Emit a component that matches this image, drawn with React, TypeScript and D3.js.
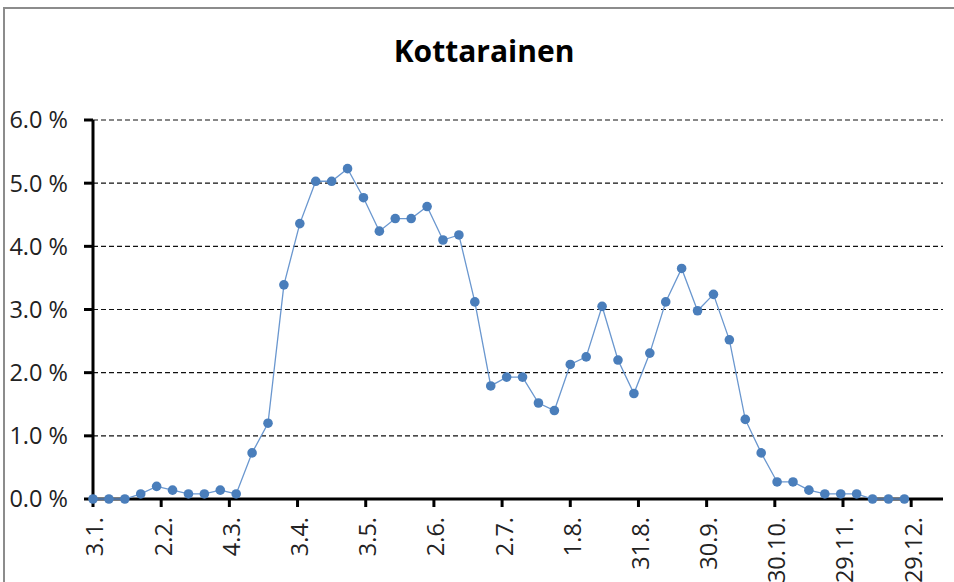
import React from "react";
import * as d3 from "d3";

const title = "Kottarainen";
const startDate = new Date(Date.UTC(2015, 0, 3));
const dayCount = 374;
const tickStepDays = 30;
const tickCount = 13;
const weekStepDays = 7;
const values = [
  0.0, 0.0, 0.0, 0.08, 0.2, 0.14, 0.08, 0.08, 0.14, 0.08,
  0.73, 1.2, 3.39, 4.36, 5.03, 5.03, 5.23, 4.77, 4.24, 4.44,
  4.44, 4.63, 4.1, 4.18, 3.12, 1.79, 1.93, 1.93, 1.52, 1.4,
  2.13, 2.25, 3.05, 2.2, 1.67, 2.31, 3.12, 3.65, 2.98, 3.24,
  2.52, 1.26, 0.73, 0.27, 0.27, 0.14, 0.08, 0.08, 0.08, 0.0,
  0.0, 0.0,
];
const yTicks = [0, 1, 2, 3, 4, 5, 6];

const DAY = 86400000;
const addDays = (d: Date, n: number) => new Date(d.getTime() + n * DAY);

export default function App() {
  const W = 954;
  const H = 582;
  const left = 93;
  const right = 943;
  const top = 120;
  const bottom = 499;

  const x = d3
    .scaleUtc()
    .domain([startDate, addDays(startDate, dayCount)])
    .range([left, right]);
  const y = d3.scaleLinear().domain([0, 6]).range([bottom, top]);

  const points = values.map((v, i) => ({ d: addDays(startDate, i * weekStepDays), v }));
  const xTicks = d3.range(tickCount).map((k) => addDays(startDate, k * tickStepDays));
  const fmt = d3.utcFormat("%-d.%-m.");

  const line = d3
    .line<{ d: Date; v: number }>()
    .x((p) => x(p.d))
    .y((p) => y(p.v));

  const font = "'Open Sans', 'Liberation Sans', sans-serif";

  return (
    <svg
      width={W}
      height={H}
      style={{ position: "absolute", left: 0, top: 0, background: "#fff" }}
      fontFamily={font}
    >
      <rect x={0} y={0} width={W} height={H} fill="#fff" />
      <path d={`M4,${H} L4,8 L${W},8`} fill="none" stroke="#8c8c8c" strokeWidth={2} />
      <text x={484} y={62} textAnchor="middle" fontSize={30} fontWeight="bold" fill="#000">
        {title}
      </text>

      {yTicks
        .filter((t) => t > 0)
        .map((t) => (
          <line
            key={"g" + t}
            x1={left}
            x2={right}
            y1={y(t)}
            y2={y(t)}
            stroke="#111"
            strokeWidth={1.1}
            strokeDasharray="5,3"
          />
        ))}

      {yTicks.map((t) => (
        <g key={"y" + t}>
          <line x1={84} x2={left} y1={y(t)} y2={y(t)} stroke="#000" strokeWidth={3} />
          <text x={68} y={y(t)} dy="0.36em" textAnchor="end" fontSize={23.5} fill="#222">
            {t.toFixed(1) + " %"}
          </text>
        </g>
      ))}

      {xTicks.map((t, i) => (
        <g key={"x" + i}>
          <line x1={x(t)} x2={x(t)} y1={bottom} y2={507} stroke="#000" strokeWidth={3} />
          <text
            transform={`translate(${x(t) + 2},517) rotate(-90)`}
            dy="0.36em"
            textAnchor="end"
            fontSize={23.5}
            fill="#222"
          >
            {fmt(t)}
          </text>
        </g>
      ))}

      <line x1={left} x2={left} y1={top} y2={bottom + 1.5} stroke="#000" strokeWidth={3} />
      <line x1={left - 1.5} x2={right} y1={bottom} y2={bottom} stroke="#000" strokeWidth={3} />

      <path d={line(points) || ""} fill="none" stroke="#6a97cf" strokeWidth={1.3} />
      {points.map((p, i) => (
        <circle key={"p" + i} cx={x(p.d)} cy={y(p.v)} r={4.8} fill="#4a7ebb" />
      ))}
    </svg>
  );
}
